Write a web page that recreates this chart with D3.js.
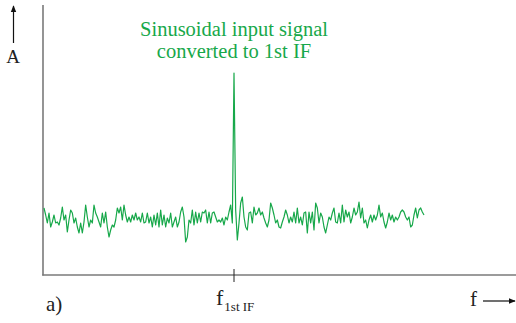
<!DOCTYPE html>
<html><head><meta charset="utf-8">
<script src="https://cdn.jsdelivr.net/npm/d3@7"></script>
<style>html,body{margin:0;padding:0;background:#fff;}svg{display:block;}</style>
</head><body>
<script>
// ---- data ----
const titleLines = ["Sinusoidal input signal", "converted to 1st IF"];
const yLabel = "A";
const xLabel = "f";
const panelLabel = "a)";
const markerMain = "f";
const markerSub = "1st IF";
const markerBin = 114;
// spectrum levels per frequency bin (arbitrary units)
const levelA = [67,60,52,62,48,53,60,52,53,50,57,68,55,60,43,55,65,62,52,57,48,42,52,42,53,70,58,48,55,52,70,62,58,53,48,62,52,63,48,38,45,50,48,55,67,62,68,55,70,60,53,58,53,60,55,62,55,58];
const levelB = [53,62,52,53,62,52,58,48,60,50,62,48,65,50,60,48,57,52,62,48,53,58,48,53,63,68,58,33,38,55,52,65,50,63,52,62,53,63,62,65,52,63,52,62,63,58,53,55,53,57,50,58,55,63,70,52];
const levelSpike = [202];
const levelC = [65,35,52,72,78,58,48,45,62,63,52,68,60,62,67,60,63,57,52,48,55,72,67,60,52,55,48,47,53,58,65,60,52,58,53,63,52,67,52,58,50,62,63,42,63,52,63,45,72,67,52,62,58,48,42,50,58,55,62,67];
const levelD = [53,52,62,52,70,53,65,58,63,52,58,67,60,63,73,57,67,52,55,47,55,60,53,60,55,60,70,58,62,53,47,53,62,55,60,53,58,55,58,63,65,63,58,55,58,48,50,60,67,57,65,67,63,60];
const levels = [].concat(levelA, levelB, levelSpike, levelC, levelD);

// ---- layout ----
const W = 516, H = 323;
const green = "#17a84a";
const axisCol = "#7a7a7a";
const serif = "'Liberation Serif', 'DejaVu Serif', serif";

const svg = d3.select("body").append("svg").attr("width", W).attr("height", H);

const x = d3.scaleLinear().domain([0, levels.length - 1]).range([44, 424]);
const y = d3.scaleLinear().domain([0, 270]).range([275, 5]);

// axes frame
svg.append("line").attr("x1", 43).attr("x2", 43).attr("y1", 5).attr("y2", 275.5)
  .attr("stroke", axisCol).attr("stroke-width", 1.6);
svg.append("line").attr("x1", 42.2).attr("x2", 516).attr("y1", 275).attr("y2", 275)
  .attr("stroke", axisCol).attr("stroke-width", 1.6);

// marker tick
svg.append("line").attr("x1", x(markerBin)).attr("x2", x(markerBin)).attr("y1", 269).attr("y2", 282)
  .attr("stroke", "#222").attr("stroke-width", 1);

// spectrum line
const line = d3.line().x((d, i) => x(i)).y(d => y(d));
svg.append("path").datum(levels).attr("d", line)
  .attr("fill", "none").attr("stroke", green).attr("stroke-width", 1.2).attr("stroke-linejoin", "round");

// title
const t = svg.append("text").attr("fill", green).attr("font-family", serif).attr("font-size", 20.5)
  .attr("text-anchor", "middle");
titleLines.forEach((s, i) => t.append("tspan").attr("x", x(markerBin)).attr("y", 36 + i * 22).text(s));

// arrows
const defs = svg.append("defs");
defs.append("marker").attr("id", "ah").attr("viewBox", "0 0 10 10").attr("refX", 9).attr("refY", 5)
  .attr("markerWidth", 6).attr("markerHeight", 6).attr("orient", "auto")
  .append("path").attr("d", "M0,1 L10,5 L0,9 z").attr("fill", "#111");
svg.append("line").attr("x1", 13.5).attr("x2", 13.5).attr("y1", 43).attr("y2", 6)
  .attr("stroke", "#111").attr("stroke-width", 1.2).attr("marker-end", "url(#ah)");
svg.append("line").attr("x1", 483).attr("x2", 515).attr("y1", 301).attr("y2", 301)
  .attr("stroke", "#111").attr("stroke-width", 1.2).attr("marker-end", "url(#ah)");

// labels
svg.append("text").attr("x", 13).attr("y", 63).attr("text-anchor", "middle")
  .attr("font-family", serif).attr("font-size", 19).attr("fill", "#222").text(yLabel);
svg.append("text").attr("x", 470).attr("y", 306)
  .attr("font-family", serif).attr("font-size", 21).attr("fill", "#222").text(xLabel);
svg.append("text").attr("x", 46).attr("y", 311)
  .attr("font-family", serif).attr("font-size", 21).attr("fill", "#222").text(panelLabel);
const mk = svg.append("text").attr("x", 216).attr("y", 305)
  .attr("font-family", serif).attr("fill", "#222");
mk.append("tspan").attr("font-size", 22).text(markerMain);
mk.append("tspan").attr("font-size", 13).attr("dy", 6).attr("dx", 1).text(markerSub);
</script>
</body></html>
